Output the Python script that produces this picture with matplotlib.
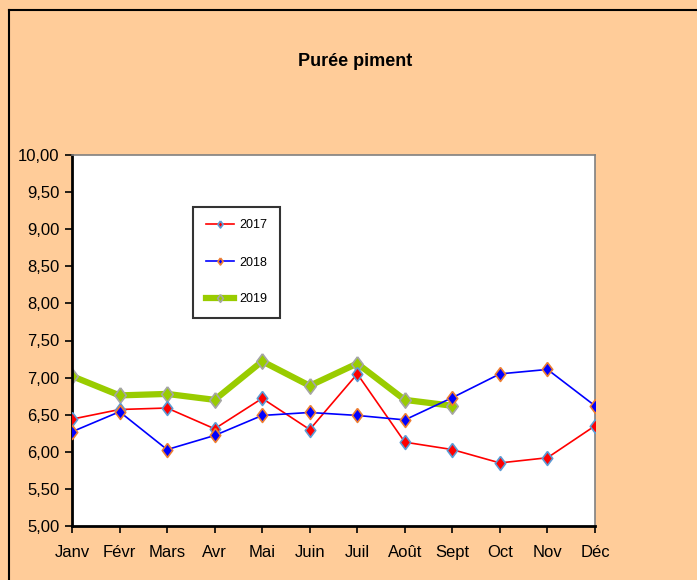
import matplotlib.pyplot as plt

mois = ['Janv', 'Févr', 'Mars', 'Avr', 'Mai', 'Juin', 'Juil', 'Août', 'Sept', 'Oct', 'Nov', 'Déc']
v2017 = [6.44, 6.57, 6.59, 6.31, 6.72, 6.30, 7.05, 6.13, 6.03, 5.85, 5.92, 6.35]
v2018 = [6.27, 6.54, 6.03, 6.22, 6.49, 6.53, 6.49, 6.43, 6.73, 7.05, 7.11, 6.62]
v2019 = [7.02, 6.76, 6.78, 6.70, 7.22, 6.89, 7.19, 6.70, 6.62]

plt.rcParams['font.family'] = ['Liberation Sans', 'DejaVu Sans']

bg = '#FFCC99'
losange = [(0, 1), (0.75, 0), (0, -1), (-0.75, 0), (0, 1)]

fig = plt.figure(figsize=(6.97, 5.8), dpi=100, facecolor=bg)
ax = fig.add_axes([72/697, 1-526/580, (595-72)/697, (526-155)/580])
ax.set_facecolor('white')

x = list(range(len(mois)))
ax.plot(x, v2017, color='red', lw=1.2, marker=losange, ms=10,
        mfc='red', mec='#5B9BD5', mew=1.2, label='2017', zorder=3)
ax.plot(x, v2018, color='blue', lw=1.2, marker=losange, ms=10,
        mfc='blue', mec='#ED7D31', mew=1.2, label='2018', zorder=3)
ax.plot(x[:len(v2019)], v2019, color='#99CC00', lw=4.5, marker=losange, ms=11,
        mfc='#99CC00', mec='#A5A5A5', mew=1.2, label='2019', zorder=2)

ax.set_xlim(0, 11)
ax.set_ylim(5, 10)
ax.set_xticks(x)
ax.set_xticklabels(mois, fontsize=12)
yt = [5 + 0.5*i for i in range(11)]
ax.set_yticks(yt)
ax.set_yticklabels([('%.2f' % v).replace('.', ',') for v in yt], fontsize=12)
ax.tick_params(axis='both', direction='out', length=5, width=1.2, colors='black')
ax.tick_params(axis='x', pad=9)
ax.tick_params(axis='y', pad=4)

for s in ['top', 'right']:
    ax.spines[s].set_color('#808080')
    ax.spines[s].set_linewidth(1.2)
for s in ['left', 'bottom']:
    ax.spines[s].set_color('black')
    ax.spines[s].set_linewidth(2)

leg = ax.legend(loc='upper left', bbox_to_anchor=((193-72)/523, (526-207)/371),
                borderaxespad=0, fontsize=9, frameon=True, fancybox=False,
                edgecolor='black', labelspacing=2.0, handlelength=2.3,
                handletextpad=0.4, borderpad=1.0, markerscale=0.5)
leg.get_frame().set_linewidth(1.5)

fig.text(355/697, 1-62/580, 'Purée piment', ha='center', va='center',
         fontsize=13, fontweight='bold')

# cadre du graphique
fig.add_artist(plt.Line2D([9/697, 9/697], [0, 1-10/580], color='black', lw=1.5,
                          transform=fig.transFigure))
fig.add_artist(plt.Line2D([9/697, 1], [1-10/580, 1-10/580], color='black', lw=1.5,
                          transform=fig.transFigure))

fig.savefig('out.png', dpi=100, facecolor=bg)
